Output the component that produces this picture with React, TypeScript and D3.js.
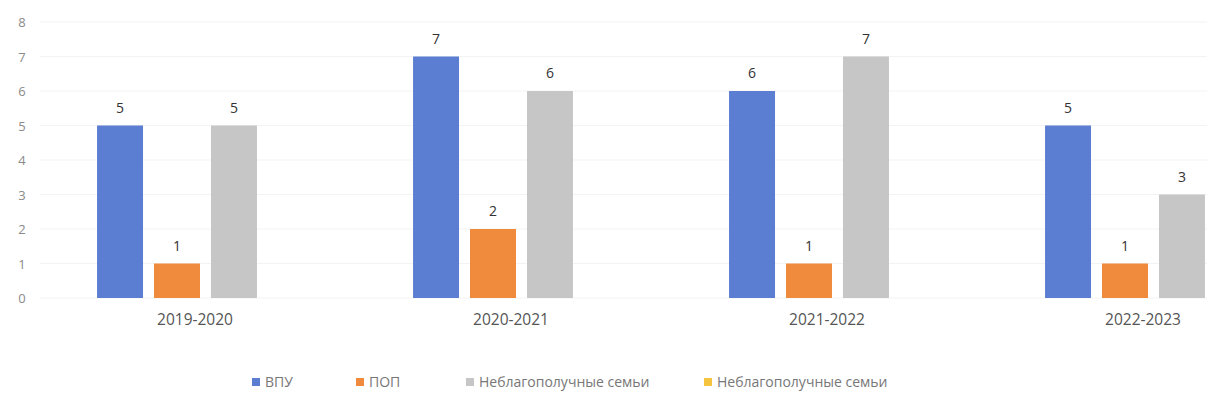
import React from "react";
import * as d3 from "d3";

const categories = ["2019-2020", "2020-2021", "2021-2022", "2022-2023"];
const seriesNames = ["ВПУ", "ПОП", "Неблагополучные семьи", "Неблагополучные семьи"];
const vpu = [5, 7, 6, 5];
const pop = [1, 2, 1, 1];
const neblag = [5, 6, 7, 3];
const yTicks = [0, 1, 2, 3, 4, 5, 6, 7, 8];
const colors = ["#5b7dd2", "#f08a3c", "#c6c6c6", "#f5c542"];

const W = 1207;
const H = 405;

export default function App() {
  const seriesValues = [vpu, pop, neblag];
  const x0 = d3
    .scaleBand<string>()
    .domain(categories)
    .range([19, 19 + 4 * 316])
    .paddingInner(0.494)
    .paddingOuter(0.247);
  const x1 = d3
    .scaleBand<number>()
    .domain([0, 1, 2])
    .range([0, x0.bandwidth()])
    .paddingInner(0.193)
    .paddingOuter(0);
  const y = d3.scaleLinear().domain([0, 8]).range([298, 22]);
  const font = "'Open Sans', 'Liberation Sans', sans-serif";

  const legendX = [252, 356, 466, 704];

  return (
    <svg
      width={W}
      height={H}
      style={{ position: "absolute", left: 0, top: 0, background: "#fff" }}
      fontFamily={font}
    >
      {yTicks.map((t) => (
        <g key={t}>
          <line x1={40} x2={W} y1={y(t)} y2={y(t)} stroke="#f3f3f3" strokeWidth={1} />
          <text x={22} y={y(t) + 5} fontSize={13} fill="#8a8a8a" textAnchor="middle">
            {t}
          </text>
        </g>
      ))}
      {categories.map((c, i) => (
        <g key={c} transform={`translate(${x0(c)},0)`}>
          {seriesValues.map((vals, s) => (
            <g key={s}>
              <rect
                x={x1(s)}
                y={y(vals[i])}
                width={x1.bandwidth()}
                height={y(0) - y(vals[i])}
                fill={colors[s]}
              />
              <text
                x={(x1(s) as number) + x1.bandwidth() / 2}
                y={y(vals[i]) - 13}
                fontSize={14}
                fill="#333"
                textAnchor="middle"
              >
                {vals[i]}
              </text>
            </g>
          ))}
          <text
            x={x0.bandwidth() / 2 + 18}
            y={325}
            fontSize={15.5}
            fill="#555"
            textAnchor="middle"
          >
            {c}
          </text>
        </g>
      ))}
      {seriesNames.map((n, i) => (
        <g key={i} transform={`translate(${legendX[i]},383)`}>
          <rect x={0} y={-5} width={8} height={8} fill={colors[i]} />
          <text x={13} y={3.5} fontSize={14} fill="#777">
            {n}
          </text>
        </g>
      ))}
    </svg>
  );
}
